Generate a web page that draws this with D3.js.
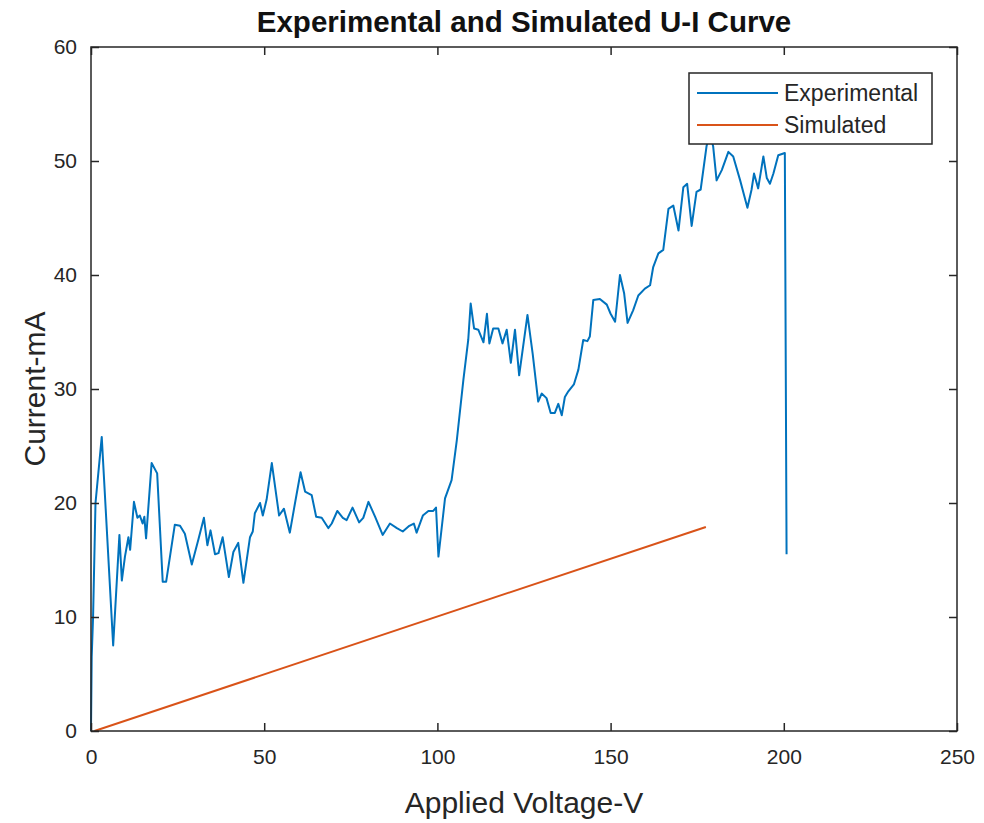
<!DOCTYPE html>
<html>
<head>
<meta charset="utf-8">
<script src="https://cdn.jsdelivr.net/npm/d3@7"></script>
<style>
  body { margin: 0; background: #fff; }
  svg { display: block; font-family: "Liberation Sans", Arial, sans-serif; }
</style>
</head>
<body>
<svg width="984" height="823"></svg>
<script>
// experimental U-I points (voltage in V, current in mA)
var expVoltage = [0, 0.2, 0.6, 1.3, 3.1, 6.4, 8.2, 8.9, 9.8, 10.8, 11.3, 12.4, 13.4, 14.1, 14.9, 15.4, 15.9, 17.5, 19.1, 20.7,
	21.7, 24.2, 25.7, 27.1, 29.1, 31.0, 32.6, 33.6, 34.5, 35.8, 36.8, 38.0, 39.8, 41.1, 42.5, 44.0, 45.9, 46.7, 47.3, 48.8,
	49.6, 50.7, 52.2, 54.3, 55.7, 57.4, 58.9, 60.5, 61.8, 63.7, 65.0, 66.6, 68.5, 69.5, 71.1, 72.7, 73.8, 75.5, 77.4, 78.6,
	80.1, 82.0, 84.2, 86.3, 88.3, 90.0, 91.9, 93.2, 94.0, 95.8, 97.4, 98.8, 99.6, 100.3, 102.2, 104.1, 105.6, 107.5, 108.9, 109.6,
	110.6, 111.8, 113.3, 114.3, 115.0, 116.1, 117.6, 118.8, 120.0, 121.2, 122.4, 123.6, 126.0, 127.5, 129.1, 130.1, 131.5, 132.7, 133.9, 134.9,
	135.9, 136.8, 137.8, 139.4, 140.7, 142.1, 143.3, 144.0, 145.0, 146.9, 148.9, 150.0, 151.3, 152.7, 153.9, 154.9, 156.5, 158.0, 159.9, 161.4,
	162.3, 163.8, 165.2, 166.7, 168.1, 169.6, 171.0, 172.1, 173.4, 174.8, 176.0, 177.7, 178.6, 179.6, 180.6, 182.1, 184.0, 185.4, 187.4, 189.5,
	190.7, 191.4, 192.6, 194.1, 195.1, 196.0, 197.0, 198.4, 200.3, 200.8];
var expCurrent = [0, 6.5, 10, 20, 25.8, 7.5, 17.2, 13.2, 15.3, 17.0, 15.9, 20.1, 18.7, 18.9, 18.2, 18.8, 16.9, 23.5, 22.6, 13.1,
	13.1, 18.1, 18.0, 17.3, 14.6, 16.8, 18.7, 16.3, 17.6, 15.5, 15.6, 17.0, 13.5, 15.7, 16.5, 13.0, 17.0, 17.5, 19.1, 20.0,
	18.9, 20.3, 23.5, 18.9, 19.5, 17.4, 20.0, 22.7, 21.0, 20.7, 18.8, 18.7, 17.8, 18.2, 19.3, 18.7, 18.5, 19.6, 18.3, 18.7,
	20.1, 18.8, 17.2, 18.2, 17.8, 17.5, 18.0, 18.2, 17.4, 18.9, 19.3, 19.3, 19.6, 15.3, 20.4, 22.0, 25.5, 30.8, 34.3, 37.5,
	35.3, 35.2, 34.1, 36.6, 34.0, 35.3, 35.3, 34.0, 35.2, 32.3, 35.2, 31.2, 36.5, 33.1, 28.9, 29.6, 29.2, 27.9, 27.9, 28.7,
	27.7, 29.3, 29.8, 30.4, 31.7, 34.3, 34.2, 34.6, 37.8, 37.9, 37.4, 36.6, 35.9, 40.0, 38.4, 35.8, 36.9, 38.2, 38.8, 39.1,
	40.7, 41.9, 42.2, 45.8, 46.1, 43.9, 47.7, 48.0, 44.3, 47.3, 47.5, 51.3, 52.5, 51.3, 48.3, 49.2, 50.8, 50.4, 48.3, 45.9,
	47.5, 48.9, 47.6, 50.4, 48.5, 48.0, 48.9, 50.5, 50.7, 15.5];

// simulated line end points
var simVoltage = [1, 177.5];
var simCurrent = [0, 17.9];

var xTicks = [0, 50, 100, 150, 200, 250];
var yTicks = [0, 10, 20, 30, 40, 50, 60];
var seriesNames = ["Experimental", "Simulated"];
var seriesColors = ["#0072BD", "#D95319"];

var svg = d3.select("svg"),
	margin = { top: 47, right: 27, bottom: 92, left: 91 },
	width = +svg.attr("width") - margin.left - margin.right,
	height = +svg.attr("height") - margin.top - margin.bottom;

var axisColor = "#262626";

var x = d3.scaleLinear().domain([0, 250]).range([0, width]);
var y = d3.scaleLinear().domain([0, 60]).range([height, 0]);

var g = svg.append("g")
	.attr("transform", "translate(" + margin.left + "," + margin.top + ")");

var expData = d3.zip(expVoltage, expCurrent);
var simData = d3.zip(simVoltage, simCurrent);

var line = d3.line()
	.x(function(d) { return x(d[0]); })
	.y(function(d) { return y(d[1]); });

g.append("path")
	.datum(expData)
	.attr("fill", "none")
	.attr("stroke", seriesColors[0])
	.attr("stroke-width", 2)
	.attr("stroke-linejoin", "round")
	.attr("d", line);

g.append("path")
	.datum(simData)
	.attr("fill", "none")
	.attr("stroke", seriesColors[1])
	.attr("stroke-width", 2)
	.attr("d", line);

// axes, ticks pointing inwards on all four sides
function styleAxis(sel, showLabels) {
	sel.select(".domain").remove();
	sel.selectAll(".tick line").attr("stroke", axisColor).attr("stroke-width", 1.5);
	sel.selectAll(".tick text")
		.attr("fill", axisColor)
		.style("font-size", "21px")
		.style("font-family", "'Liberation Sans', Arial, sans-serif");
	if (!showLabels) sel.selectAll(".tick text").remove();
}

g.append("g")
	.attr("transform", "translate(0," + height + ")")
	.call(d3.axisBottom(x).tickValues(xTicks).tickSize(-8).tickPadding(18))
	.call(styleAxis, true);

g.append("g")
	.call(d3.axisTop(x).tickValues(xTicks).tickSize(-8))
	.call(styleAxis, false);

g.append("g")
	.call(d3.axisLeft(y).tickValues(yTicks).tickSize(-8).tickPadding(14))
	.call(styleAxis, true);

g.append("g")
	.attr("transform", "translate(" + width + ",0)")
	.call(d3.axisRight(y).tickValues(yTicks).tickSize(-8))
	.call(styleAxis, false);

g.append("rect")
	.attr("width", width)
	.attr("height", height)
	.attr("fill", "none")
	.attr("stroke", axisColor)
	.attr("stroke-width", 1.5);

// title and axis labels
svg.append("text")
	.attr("x", margin.left + width / 2)
	.attr("y", 32)
	.attr("text-anchor", "middle")
	.attr("fill", "#111")
	.style("font-size", "29.5px")
	.style("font-weight", "bold")
	.text("Experimental and Simulated U-I Curve");

svg.append("text")
	.attr("x", margin.left + width / 2)
	.attr("y", 813)
	.attr("text-anchor", "middle")
	.attr("fill", axisColor)
	.style("font-size", "30px")
	.text("Applied Voltage-V");

svg.append("text")
	.attr("transform", "translate(45," + (margin.top + height / 2) + ") rotate(-90)")
	.attr("text-anchor", "middle")
	.attr("fill", axisColor)
	.style("font-size", "30px")
	.text("Current-mA");

// legend
var legend = svg.append("g").attr("transform", "translate(689,73)");

legend.append("rect")
	.attr("width", 243)
	.attr("height", 71)
	.attr("fill", "#fff")
	.attr("stroke", axisColor)
	.attr("stroke-width", 1.5);

seriesNames.forEach(function(name, i) {
	var row = legend.append("g").attr("transform", "translate(0," + (20 + i * 32) + ")");
	row.append("line")
		.attr("x1", 8).attr("x2", 89)
		.attr("stroke", seriesColors[i])
		.attr("stroke-width", 2);
	row.append("text")
		.attr("x", 95)
		.attr("dy", "0.36em")
		.attr("fill", axisColor)
		.style("font-size", "23px")
		.text(name);
});
</script>
</body>
</html>
